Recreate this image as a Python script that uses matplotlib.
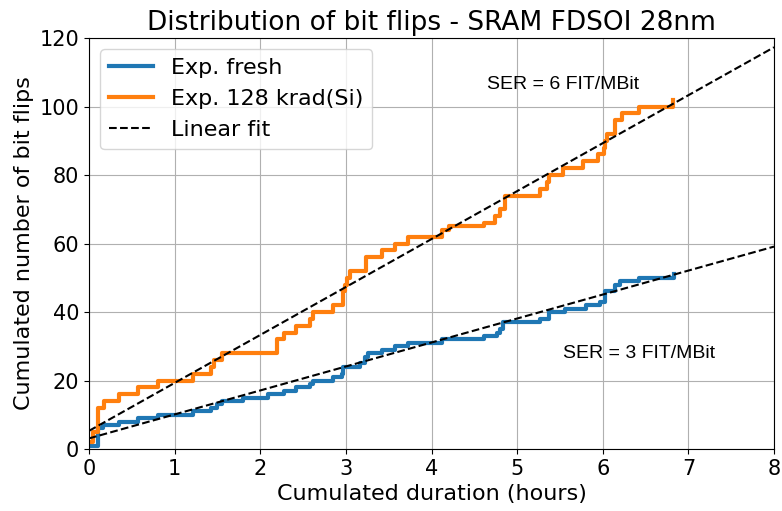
import matplotlib
matplotlib.use("Agg")
import matplotlib.pyplot as plt
import numpy as np

# cumulated bit flips, step data
fresh_t = [0, 0.1, 0.16, 0.35, 0.57, 0.81, 1.21, 1.43, 1.49, 1.55, 1.8, 2.09, 2.28, 2.42,
           2.58, 2.62, 2.85, 2.95, 2.97, 3.17, 3.22, 3.26, 3.42, 3.57, 3.73, 4.12, 4.61,
           4.76, 4.8, 4.84, 5.27, 5.37, 5.56, 5.8, 5.97, 6.03, 6.14, 6.2, 6.42, 6.83]
fresh_n = [1, 6, 7, 8, 9, 10, 11, 12, 13, 14, 15, 16, 17, 18,
           19, 20, 21, 22, 24, 25, 27, 28, 29, 30, 31, 32, 33,
           34, 35, 37, 38, 40, 41, 42, 43, 46, 48, 49, 50, 51]

irr_t = [0, 0.05, 0.1, 0.18, 0.35, 0.57, 0.81, 1.21, 1.43, 1.46, 1.55, 2.2, 2.28, 2.42,
         2.58, 2.62, 2.85, 2.97, 2.99, 3.01, 3.05, 3.24, 3.42, 3.57, 3.73, 4.12, 4.2,
         4.61, 4.74, 4.8, 4.86, 5.27, 5.35, 5.37, 5.54, 5.77, 5.95, 6.01, 6.03, 6.05,
         6.14, 6.22, 6.42, 6.82]
irr_n = [2, 5, 12, 14, 16, 18, 20, 22, 24, 26, 28, 32, 34, 36,
         38, 40, 42, 46, 48, 50, 52, 56, 58, 60, 62, 64, 65,
         66, 68, 70, 74, 76, 78, 80, 82, 84, 86, 88, 90, 92,
         96, 98, 100, 102]

# linear fits (slope, intercept)
fit_fresh = (7.0, 3.1)
fit_irr = (14.0, 5.3)

fig = plt.figure(figsize=(7.82, 5.11), dpi=100)
ax = fig.add_axes([0.1138, 0.1213, 0.876, 0.8043])

ax.plot(fresh_t, fresh_n, drawstyle="steps-post", color="#1f77b4", linewidth=3, label="Exp. fresh")
ax.plot(irr_t, irr_n, drawstyle="steps-post", color="#ff7f0e", linewidth=3, label="Exp. 128 krad(Si)")

xf = np.array([0, 8])
ax.plot(xf, fit_irr[0] * xf + fit_irr[1], "k--", linewidth=1.5, label="Linear fit")
ax.plot(xf, fit_fresh[0] * xf + fit_fresh[1], "k--", linewidth=1.5)

ax.text(4.65, 106.5, "SER = 6 FIT/MBit", fontsize=14, family="Liberation Sans", va="center")
ax.text(5.53, 28, "SER = 3 FIT/MBit", fontsize=14, family="Liberation Sans", va="center")

ax.set_xlim(0, 8)
ax.set_ylim(0, 120)
ax.grid(True)
ax.tick_params(labelsize=15)
ax.set_xlabel("Cumulated duration (hours)", fontsize=16)
ax.set_ylabel("Cumulated number of bit flips", fontsize=16)
ax.set_title("Distribution of bit flips - SRAM FDSOI 28nm", fontsize=19)
ax.legend(loc="upper left", fontsize=16)

fig.savefig("out.png", dpi=100)
